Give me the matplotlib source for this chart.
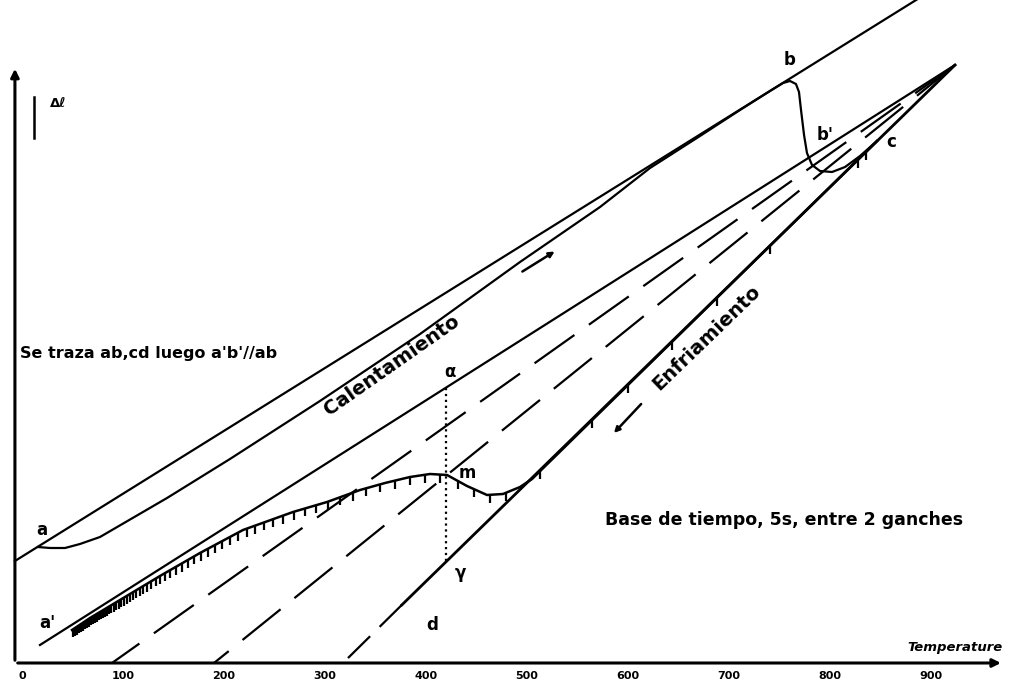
import matplotlib.pyplot as plt
import numpy as np

# x = temperature (as on the drawing's scale), y = elongation height (drawing units)
tick_vals = [0, 100, 200, 300, 400, 500, 600, 700, 800, 900]

ab_T = [-7, 890]
ab_y = [102, 666]
a1b1_T = [17.8, 923.8]
a1b1_y = [18, 598]
cd_T = [923.8, 376]
cd_y = [598, 58]
cd_ext_T = [376, 317.8]
cd_ext_y = [58, 0]
d1_T = [923.8, 89.1]
d1_y = [598, 0]
d2_T = [923.8, 190.1]
d2_y = [598, 0]

# heating curve a -> b -> b' -> c
heat_T = [15.8, 27.7, 42.6, 57.4, 77.2, 143.6, 205.9, 295.0, 394.1, 493.1, 572.3,
          621.8, 671.3, 710.9, 740.6, 753.5, 760.4, 766.3, 769.3, 771.3, 774.3,
          777.2, 782.2, 790.1, 802.0, 814.9, 829.7, 846.5]
heat_y = [116, 115, 115, 119, 126, 165, 204, 262, 329, 401, 456,
          495, 527, 553, 572, 580, 582, 579, 571, 553, 528,
          510, 498, 492, 491, 496, 507, 522]

# cooling curve c -> m -> a'
cool_T = [846.5, 505.0, 493.1, 476.2, 460.4, 440.6, 420.8, 404.0, 384.2, 359.4,
          334.7, 302.0, 268.3, 218.8, 176.2, 136.6, 97.0, 67.3, 49.5]
cool_y = [522, 184, 176, 169, 168, 177, 188, 189, 186, 180,
          173, 161, 151, 133, 110, 87, 63, 45, 33]

# time marks (every 5 s) along the cooling curve
mark_T = [50.5, 52.5, 54.5, 56.5, 58.5, 60.5, 62.5, 64.5, 66.5, 68.5, 70.5, 72.5,
          74.5, 76.5, 78.5, 80.5, 82.5, 84.5, 86.5, 88.5, 91.0, 93.5, 96.0, 98.5,
          101.0, 104.0, 107.0, 110.0, 113.0, 116.5, 120.0, 124.0, 128.0, 132.5,
          137.0, 142.0, 147.0, 152.5, 158.0, 164.0, 170.5, 177.0, 184.0, 191.0,
          198.5, 206.0, 214.0, 222.5, 231.0, 240.0, 249.0, 258.4, 269.3, 280.2,
          291.1, 303.0, 314.9, 327.7, 340.6, 354.5, 369.3, 384.2, 399.0, 413.9,
          431.7, 447.5, 463.4, 479.2, 512.9, 564.4, 600.0, 643.6, 688.1, 740.6,
          827.7, 835.6]

alpha_gamma_T = [420, 420]
alpha_gamma_y = [275, 100]

fig = plt.figure(figsize=(10.11, 6.85), dpi=100)
ax = fig.add_axes([0, 0, 1, 1])
ax.set_xlim(-22 / 1.01, (1011 - 22) / 1.01)
ax.set_ylim(-22, 663)
ax.axis('off')

lw = 1.6
ax.plot(ab_T, ab_y, color='k', lw=lw)
ax.plot(a1b1_T, a1b1_y, color='k', lw=lw)
ax.plot(cd_T, cd_y, color='k', lw=lw + 0.4)
ax.plot(cd_ext_T, cd_ext_y, color='k', lw=lw, dashes=(14, 6))
ax.plot(d1_T, d1_y, color='k', lw=lw, dashes=(22, 8))
ax.plot(d2_T, d2_y, color='k', lw=lw, dashes=(22, 8))
ax.plot(heat_T, heat_y, color='k', lw=lw)
ax.plot(cool_T, cool_y, color='k', lw=lw + 0.2)
ax.plot(alpha_gamma_T, alpha_gamma_y, color='k', lw=1.6, ls=':')

# hatch marks hanging from the cooling curve
ct = np.array(cool_T)[::-1]
cy = np.array(cool_y)[::-1]
yc = np.interp(mark_T, ct, cy)
ax.vlines(mark_T, yc - 8, yc, color='k', lw=1.6)

# axes of the drawing
ax.annotate('', xy=(972, 0), xytext=(-7, 0),
            arrowprops=dict(arrowstyle='-|>', lw=2.2, color='k', mutation_scale=12))
ax.annotate('', xy=(-7, 597), xytext=(-7, 0),
            arrowprops=dict(arrowstyle='-|>', lw=2.2, color='k', mutation_scale=12))
for v in tick_vals:
    ax.text(v, -13, str(v), ha='center', va='center', fontsize=8, fontweight='bold')
ax.text(971, 15, 'Temperature', ha='right', va='center', fontsize=9.5,
        fontweight='bold', style='italic')

# Δl scale bar
ax.plot([12, 12], [525, 566], color='k', lw=1.8)
ax.text(28, 560, 'Δℓ', ha='left', va='center', fontsize=9.5, fontweight='bold')

# direction arrows
ax.annotate('', xy=(529.7, 413), xytext=(493.1, 390),
            arrowprops=dict(arrowstyle='-|>', lw=1.8, color='k', mutation_scale=8))
ax.annotate('', xy=(584.2, 228), xytext=(614.9, 261),
            arrowprops=dict(arrowstyle='-|>', lw=1.8, color='k', mutation_scale=8))

# point labels
labels = [('a', 19.8, 133), ("a'", 25, 40), ('b', 760.4, 603), ("b'", 795, 528),
          ('c', 861, 521), ('α', 423.8, 291), ('m', 440.6, 190), ('γ', 433.7, 90),
          ('d', 406, 38)]
for s, x, y in labels:
    ax.text(x, y, s, ha='center', va='center', fontsize=12, fontweight='bold')

ax.text(-2, 310, "Se traza ab,cd luego a'b'//ab", ha='left', va='center',
        fontsize=11.5, fontweight='bold')
ax.text(577, 143, 'Base de tiempo, 5s, entre 2 ganches', ha='left', va='center',
        fontsize=12.5, fontweight='bold')
ax.text(366, 298, 'Calentamiento', ha='center', va='center', rotation=35,
        rotation_mode='anchor', fontsize=14, fontweight='bold')
ax.text(678, 325, 'Enfriamiento', ha='center', va='center', rotation=44,
        rotation_mode='anchor', fontsize=14, fontweight='bold')

fig.savefig('out.png', dpi=100)
